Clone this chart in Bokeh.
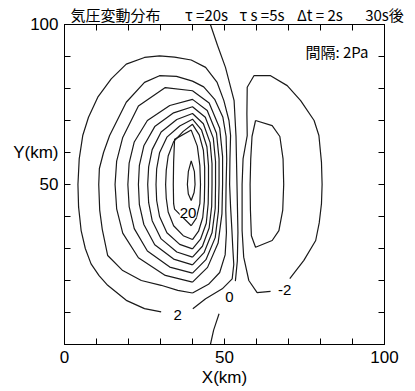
from bokeh.plotting import figure
from bokeh.models import Range1d, LinearAxis, FixedTicker, Label
from bokeh.embed import file_html
from bokeh.resources import INLINE

nan = float("nan")

# ---- tick marks and labels ----
tick_values = [0, 10, 20, 30, 40, 50, 60, 70, 80, 90, 100]
x_tick_labels = {0: "0", 50: "50", 100: "100"}
y_tick_labels = {50: "50", 60: "Y(km)", 100: "100"}
x_title = "X(km)"

# ---- header texts, centred over these x positions (km) ----
head_text = ["気圧変動分布", "τ =20s", "τ s =5s", "Δt = 2s", "30s後"]
head_x = [15.9, 44.4, 61.7, 79.8, 100.0]
interval_text = "間隔: 2Pa"

# ---- contour lines (x km, y km); nan = gap for a label ----
c2_x = [40.1, 44.1, 49.3, 52.4, 52.9, 52.6, 52.3, 51.9, 51.6, 51.7, 51.9, 51.4, 49.8, 47.7, 44.1, 39.6, 34.4, 29.7, 25.0, 19.3, 14.6, 10.4, 7.5, 5.7, 4.6, 4.2, 4.4, 5.2, 6.5, 8.3, 10.8, 13.5, 19.3, 25.0, 30.2]
c2_y = [11.2, 14.3, 17.4, 20.5, 25.0, 30.0, 36.0, 43.0, 50.0, 58.0, 65.3, 70.0, 76.2, 81.9, 86.6, 88.9, 89.8, 90.2, 89.7, 87.6, 83.0, 77.3, 71.0, 65.3, 58.0, 50.0, 43.0, 35.6, 30.0, 25.2, 21.5, 18.5, 13.8, 11.2, 10.2]

c4_x = [40.0, 45.0, 48.5, 50.2, 50.6, 50.4, 50.5, 50.7, 50.5, 49.5, 47.0, 43.5, 40.0, 35.0, 29.7, 25.0, 19.3, 14.1, 12.2, 10.9, 10.7, 11.0, 11.8, 13.5, 18.2, 24.0, 30.2, 35.4, 40.0]
c4_y = [16.1, 18.8, 22.5, 28.0, 35.0, 42.0, 50.0, 58.0, 65.0, 71.0, 76.5, 80.5, 82.3, 83.8, 84.0, 81.9, 75.7, 65.3, 60.0, 55.0, 50.0, 42.0, 36.0, 27.8, 23.1, 20.0, 18.5, 16.9, 16.1]

c6_x = [40.0, 44.7, 48.0, 49.2, 49.4, 49.4, 48.5, 45.2, 40.0, 31.5, 23.1, 18.2, 16.3, 15.8, 16.3, 18.2, 23.1, 31.5, 40.0]
c6_y = [19.5, 24.1, 31.7, 40.8, 50.0, 58.8, 67.6, 75.5, 79.3, 80.3, 74.5, 64.7, 57.3, 50.0, 42.4, 34.8, 27.1, 21.6, 19.5]

c8_x = [40.0, 44.2, 47.1, 48.1, 48.3, 48.3, 47.5, 44.6, 40.0, 32.9, 25.9, 21.8, 20.2, 19.8, 20.2, 21.8, 25.9, 32.9, 40.0]
c8_y = [22.3, 26.5, 33.4, 41.7, 50.0, 58.0, 66.0, 73.1, 76.6, 74.7, 70.0, 63.3, 56.7, 50.0, 43.1, 36.2, 29.2, 24.2, 22.3]

c10_x = [40.0, 43.6, 46.1, 47.1, 47.2, 47.2, 46.5, 44.0, 40.0, 34.1, 28.2, 24.8, 23.4, 23.1, 23.4, 24.8, 28.2, 34.1, 40.0]
c10_y = [24.9, 28.7, 34.9, 42.5, 50.0, 57.2, 64.5, 71.0, 74.3, 72.4, 68.1, 62.1, 56.0, 50.0, 43.7, 37.5, 31.2, 26.7, 24.9]

c12_x = [40.0, 43.1, 45.2, 46.0, 46.1, 46.1, 45.5, 43.4, 40.0, 35.1, 30.2, 27.4, 26.3, 26.0, 26.3, 27.4, 30.2, 35.1, 40.0]
c12_y = [27.3, 30.7, 36.4, 43.2, 50.0, 56.5, 63.1, 69.0, 72.2, 70.3, 66.4, 60.9, 55.5, 50.0, 44.3, 38.7, 33.0, 28.9, 27.3]

c14_x = [40.0, 42.5, 44.3, 44.9, 45.0, 45.0, 44.5, 42.8, 40.0, 36.0, 32.0, 29.7, 28.8, 28.6, 28.8, 29.7, 32.0, 36.0, 40.0]
c14_y = [29.9, 32.9, 37.9, 44.0, 50.0, 55.9, 61.8, 67.1, 70.4, 68.3, 64.8, 59.9, 54.9, 50.0, 45.0, 40.0, 34.9, 31.3, 29.9]

c16_x = [40.0, 41.9, 43.2, 43.7, 43.8, 43.8, 43.4, 42.1, 40.0, 37.1, 34.1, 32.4, 31.8, 31.6, 31.8, 32.4, 34.1, 37.1, 40.0]
c16_y = [32.8, 35.4, 39.7, 44.8, 50.0, 55.3, 60.7, 65.5, 68.8, 66.6, 63.4, 58.9, 54.5, 50.0, 45.7, 41.4, 37.1, 34.0, 32.8]

c18_x = [39.6, 41.2, 42.3, 42.5, 42.3, 41.5, 39.6, 34.4, 34.1, 34.0, 34.1, 34.4, 39.6]
c18_y = [37.1, 39.5, 44.0, 50.0, 56.0, 62.0, 67.0, 64.1, 57.0, 50.0, 44.0, 42.3, 37.1]

c20_x = [39.6, 40.5, 40.8, 40.6, 39.6, 38.7, 38.4, 38.7, 39.6]
c20_y = [45.0, 47.5, 50.0, 54.0, 57.4, 54.0, 50.0, 47.0, 45.0]

c0_x = [45.6, 46.6, 48.3, nan, 53.4, 54.0, 54.2, 54.0, 53.8, 53.6, 53.0, 50.3, 47.8, 45.6]
c0_y = [0.0, 4.5, 9.6, nan, 19.8, 26.0, 35.0, 45.0, 55.0, 65.0, 76.2, 86.6, 93.5, 100.0]

cm2_x = [70.4, 74.8, 78.5, 79.6, 80.3, 80.5, 80.3, 79.5, 78.0, 73.8, 69.6, 64.4, 59.2, 57.1, 57.0, 57.1, 55.8, 55.5, 55.5, 56.0, 57.6, 60.2, 64.4]
cm2_y = [20.6, 26.3, 32.5, 38.0, 44.0, 50.0, 57.0, 65.3, 70.0, 76.2, 80.9, 84.0, 84.0, 80.4, 72.0, 65.3, 58.0, 50.0, 35.6, 27.3, 20.0, 16.2, 16.6]

cm4_x = [59.7, 64.9, 67.3, 68.3, 68.5, 68.2, 67.0, 64.9, 59.7, 58.4, 58.1, 58.0, 58.2, 58.6, 59.7]
cm4_y = [70.0, 68.4, 65.0, 58.0, 50.0, 42.0, 35.6, 32.5, 30.4, 34.0, 42.0, 50.0, 58.0, 65.0, 70.0]

contours_x = [c2_x, c4_x, c6_x, c8_x, c10_x, c12_x, c14_x, c16_x, c18_x, c20_x, c0_x, cm2_x, cm4_x]
contours_y = [c2_y, c4_y, c6_y, c8_y, c10_y, c12_y, c14_y, c16_y, c18_y, c20_y, c0_y, cm2_y, cm4_y]

# ---- contour value labels ----
clabel_text = ["20", "2", "0", "-2"]
clabel_x = [38.6, 35.4, 51.5, 68.8]
clabel_y = [41.2, 9.3, 14.7, 16.9]

LINE = "#1a1a1a"
LATIN = "Liberation Sans"
CJK = "Noto Sans CJK JP"

p = figure(width=415, height=391, output_backend="svg", toolbar_location=None,
           x_range=Range1d(0, 100), y_range=Range1d(0, 100),
           min_border_left=64, min_border_right=31, min_border_top=23, min_border_bottom=47)
p.background_fill_color = "white"
p.border_fill_color = "white"
p.outline_line_color = "black"
p.outline_line_width = 1
p.xgrid.visible = False
p.ygrid.visible = False

for ax, labels in ((p.xaxis[0], x_tick_labels), (p.yaxis[0], y_tick_labels)):
    ax.ticker = FixedTicker(ticks=tick_values)
    ax.major_label_overrides = {t: labels.get(t, "") for t in tick_values}
    ax.major_tick_in = 6
    ax.major_tick_out = 0
    ax.minor_tick_in = 0
    ax.minor_tick_out = 0
    ax.axis_line_color = "black"
    ax.major_tick_line_color = "black"
    ax.major_label_text_font = LATIN
    ax.major_label_text_font_size = "17px"
    ax.major_label_text_color = "black"
    ax.major_label_standoff = 6

p.xaxis[0].axis_label = x_title
p.xaxis[0].axis_label_text_font = LATIN
p.xaxis[0].axis_label_text_font_size = "17px"
p.xaxis[0].axis_label_text_font_style = "normal"
p.xaxis[0].axis_label_text_color = "black"
p.xaxis[0].axis_label_standoff = 2

# top axis: tick marks every 10 km (as minor ticks) and the header texts as labels
top = LinearAxis(ticker=FixedTicker(ticks=head_x, minor_ticks=tick_values),
                 major_label_overrides={x: t for x, t in zip(head_x, head_text)},
                 major_label_text_font=CJK, major_label_text_font_size="15px",
                 major_label_text_color="black", major_label_standoff=0,
                 major_tick_in=0, major_tick_out=0, minor_tick_in=6, minor_tick_out=0,
                 axis_line_color="black", minor_tick_line_color="black")
p.add_layout(top, "above")

right = LinearAxis(ticker=FixedTicker(ticks=tick_values),
                   major_label_overrides={t: "" for t in tick_values},
                   major_label_text_font_size="0px", major_label_standoff=0,
                   major_tick_in=6, major_tick_out=0, minor_tick_in=0, minor_tick_out=0,
                   axis_line_color="black", major_tick_line_color="black")
p.add_layout(right, "right")

for xs, ys in zip(contours_x, contours_y):
    p.line(xs, ys, line_color=LINE, line_width=1.2)

for t, x, y in zip(clabel_text, clabel_x, clabel_y):
    p.add_layout(Label(x=x, y=y, text=t, text_font=LATIN, text_font_size="15px",
                       text_align="center", text_baseline="middle", text_color="black",
                       background_fill_color="white" if t == "20" else None))

p.add_layout(Label(x=75.3, y=91.7, text=interval_text, text_font=CJK, text_font_size="15px",
                   text_align="left", text_baseline="middle", text_color="black"))

open("out.html", "w").write(file_html(p, INLINE))
